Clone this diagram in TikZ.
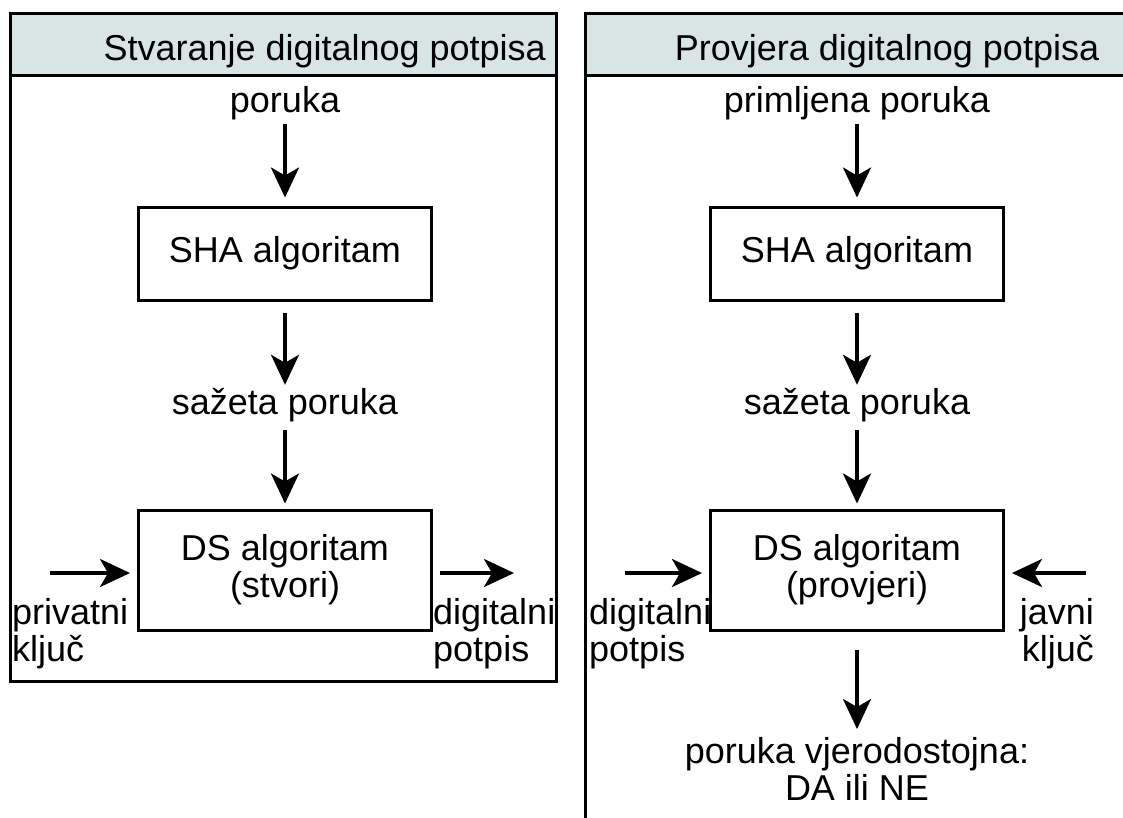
\documentclass[tikz,border=0pt]{standalone}
\usepackage{fontspec}
\setmainfont{Liberation Sans}
\usetikzlibrary{arrows.meta}
\definecolor{headfill}{RGB}{217,229,229}

\begin{document}
\begin{tikzpicture}[x=1pt,y=-1pt,
  every node/.style={font=\fontsize{36}{37}\selectfont,inner sep=0pt},
  txt/.style={text height=26pt,text depth=7pt},
  box/.style={draw,line width=3pt,minimum width=293pt,align=center},
  arr/.style={line width=3.5pt,-{Stealth[length=30pt,width=28pt,inset=8pt]}}]
  \useasboundingbox (0,0) rectangle (1123,817);
  % panels
  \draw[line width=3pt] (10,13) rectangle (556,681);
  \draw[line width=3pt,fill=headfill] (10,13) rectangle (556,75);
  \draw[line width=3pt,fill=headfill] (585,13) rectangle (1140,75);
  \draw[line width=3pt] (585,75) -- (585,830);
  \node[anchor=base east] (h1) at (546,60) {Stvaranje digitalnog potpisa};
  \node[anchor=base] (h2) at (887,60) {Provjera digitalnog potpisa};

  % stvaranje
  \node[txt,anchor=base] (0) at (285,112) {poruka};
  \node[box,minimum height=93pt] (1) at (285,253.5) {SHA algoritam};
  \node[txt,anchor=base] (2) at (285,414) {sažeta poruka};
  \node[box,minimum height=120pt] (3) at (285,570) {DS algoritam\\(stvori)};
  \node[align=left,anchor=north west] (4) at (12,598) {privatni\\ključ};
  \node[align=left,anchor=north west] (5) at (433,598) {digitalni\\potpis};
  \coordinate (6) at (50,573);
  \coordinate (7) at (514,573);
  \draw[arr,shorten <=5pt,shorten >=8pt] (0) -- (1);
  \draw[arr,shorten <=11pt,shorten >=3pt] (1) -- (2);
  \draw[arr,shorten <=9pt,shorten >=5pt] (2) -- (3);
  \draw[arr,shorten >=7pt] (6) -- (6 -| 3.west);
  \draw[arr,shorten <=7pt] (7 -| 3.east) -- (7);

  % provjera
  \node[txt,anchor=base] (8) at (857,112) {primljena poruka};
  \node[box,minimum height=93pt] (9) at (857,253.5) {SHA algoritam};
  \node[txt,anchor=base] (10) at (857,414) {sažeta poruka};
  \node[box,minimum height=120pt] (11) at (857,570) {DS algoritam\\(provjeri)};
  \node[align=left,anchor=north west] (12) at (589,598) {digitalni\\potpis};
  \node[align=right,anchor=north east] (13) at (1094,598) {javni\\ključ};
  \node[align=center,anchor=north] (14) at (857,737) {poruka vjerodostojna:\\DA ili NE};
  \coordinate (15) at (625,573);
  \coordinate (16) at (1086,573);
  \draw[arr,shorten <=5pt,shorten >=8pt] (8) -- (9);
  \draw[arr,shorten <=11pt,shorten >=3pt] (9) -- (10);
  \draw[arr,shorten <=9pt,shorten >=5pt] (10) -- (11);
  \draw[arr,shorten >=7pt] (15) -- (15 -| 11.west);
  \draw[arr,shorten >=7pt] (16) -- (16 -| 11.east);
  \draw[arr,shorten <=18pt,shorten >=8pt] (11) -- (14);
\end{tikzpicture}
\end{document}
